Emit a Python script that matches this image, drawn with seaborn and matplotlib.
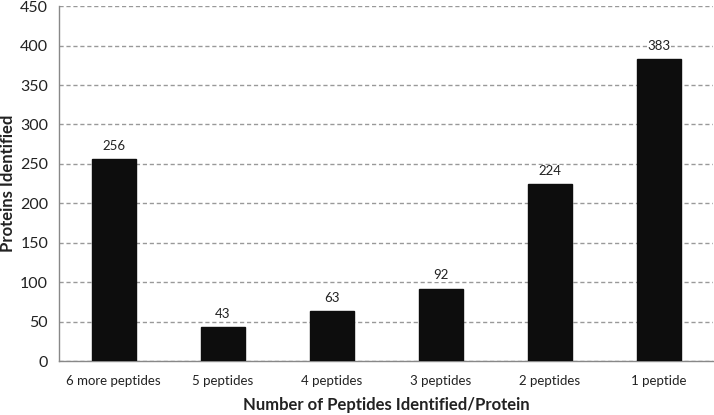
import matplotlib
matplotlib.use("Agg")
import matplotlib.pyplot as plt
import seaborn as sns
import pandas as pd

categories = ["6 more peptides", "5 peptides", "4 peptides", "3 peptides", "2 peptides", "1 peptide"]
values = [256, 43, 63, 92, 224, 383]
yticks = [0, 50, 100, 150, 200, 250, 300, 350, 400, 450]

sns.set_theme(style="white")
plt.rcParams['font.family'] = ['Lato', 'DejaVu Sans']

df = pd.DataFrame({"cat": categories, "val": values})

fig = plt.figure(figsize=(7.14, 4.15), dpi=100)
ax = fig.add_axes([0.083, 0.130, 0.916, 0.855])
sns.barplot(data=df, x="cat", y="val", color="#0d0d0d", width=0.40, ax=ax,
            saturation=1, edgecolor="#0d0d0d", zorder=3)

ax.set_xlim(-0.5, len(categories) - 0.5)
ax.set_ylim(0, 450)
ax.set_yticks(yticks)
ax.set_yticklabels([str(t) for t in yticks], fontsize=11.5, color="#222222")
ax.tick_params(axis='y', direction='out', length=5, color="#888888", width=1, pad=3)
ax.tick_params(axis='x', length=0, labelsize=9.5, pad=10, labelcolor="#222222")
ax.yaxis.grid(True, linestyle=(0, (3, 2)), color="#999999", linewidth=1, zorder=0)
ax.set_axisbelow(True)
for s in ["top", "right"]:
    ax.spines[s].set_visible(False)
for s in ["left", "bottom"]:
    ax.spines[s].set_color("#888888")
    ax.spines[s].set_linewidth(1)

for i, v in enumerate(values):
    ax.text(i, v + 9, str(v), ha="center", va="bottom", fontsize=9.5, color="#222222",
            bbox=dict(facecolor="white", edgecolor="none", pad=0.5))

ax.set_xlabel("Number of Peptides Identified/Protein", fontsize=12, fontweight="bold",
              color="#222222", labelpad=7)
ax.set_ylabel("Proteins Identified", fontsize=12, fontweight="bold", color="#222222", labelpad=3)

fig.savefig("out.png", dpi=100)
